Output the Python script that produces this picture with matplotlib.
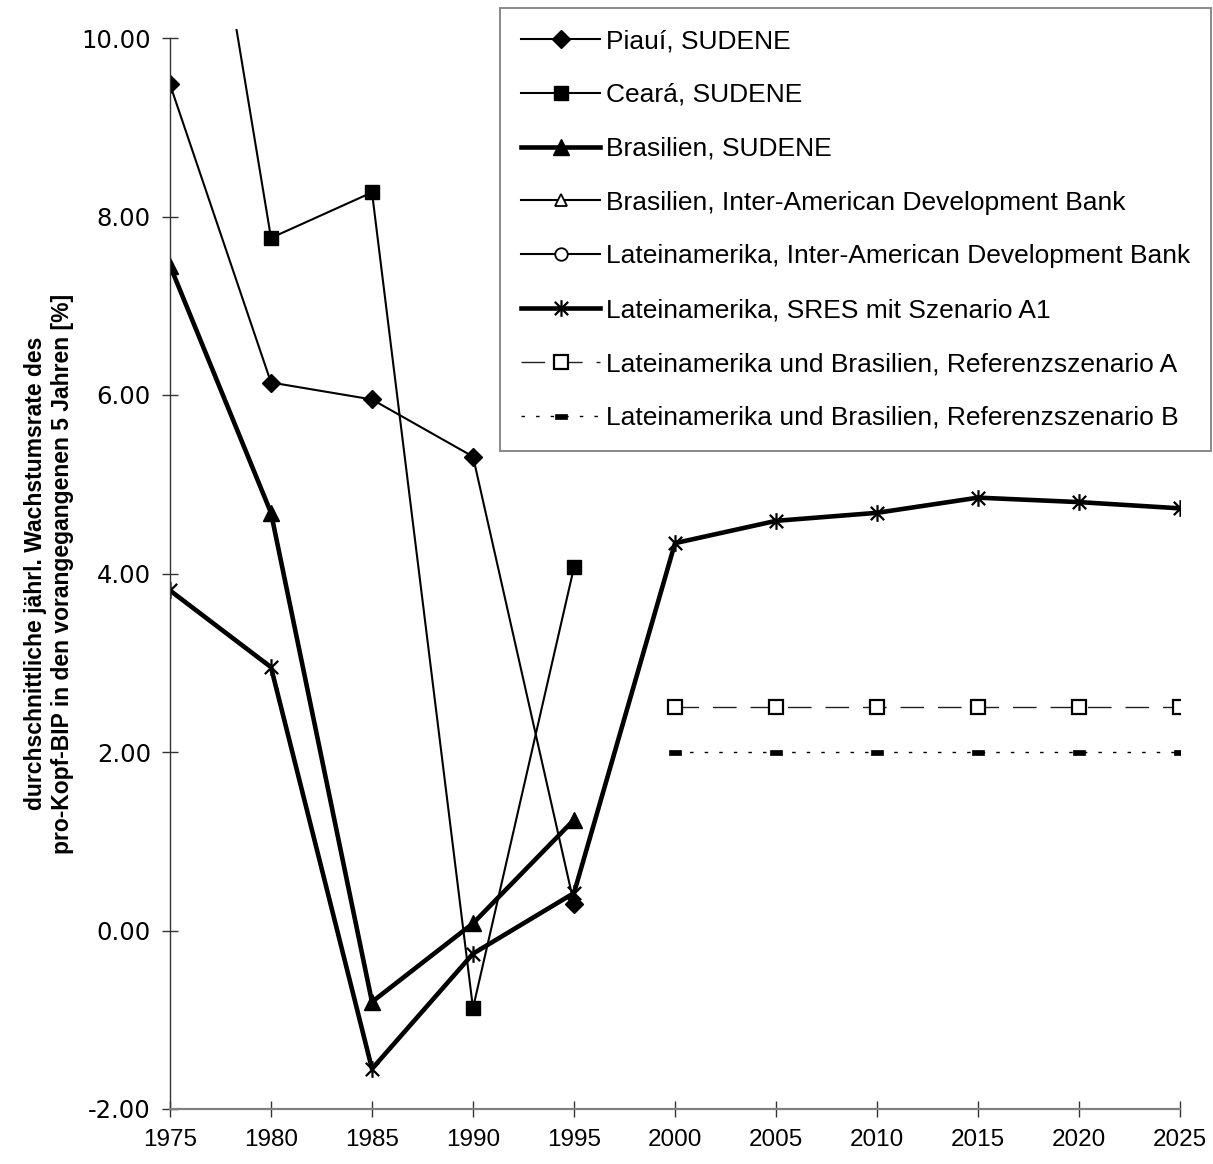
import numpy as np
import matplotlib
matplotlib.use("Agg")
import matplotlib.pyplot as plt
from matplotlib.path import Path
from matplotlib.patches import Rectangle

plt.rcParams['font.family'] = ['Liberation Sans', 'DejaVu Sans']

# years on the x axis
years_hist = [1975, 1980, 1985, 1990, 1995]
years_all = [1975, 1980, 1985, 1990, 1995, 2000, 2005, 2010, 2015, 2020, 2025]
years_ref = [2000, 2005, 2010, 2015, 2020, 2025]

# average annual growth of GDP per capita over the preceding 5 years [%]
piaui_sudene = [9.48, 6.14, 5.95, 5.31, 0.30]
ceara_sudene = [14.6, 7.76, 8.27, -0.87, 4.07]
brasil_sudene = [7.45, 4.68, -0.80, 0.08, 1.24]
brasil_idb = []          # only shown in the legend
latam_idb = []           # only shown in the legend
latam_sres_a1 = [3.81, 2.95, -1.55, -0.26, 0.42, 4.34, 4.59, 4.68, 4.85, 4.80, 4.73]
ref_a = [2.5, 2.5, 2.5, 2.5, 2.5, 2.5]
ref_b = [2.0, 2.0, 2.0, 2.0, 2.0, 2.0]

labels = ["Piauí, SUDENE",
          "Ceará, SUDENE",
          "Brasilien, SUDENE",
          "Brasilien, Inter-American Development Bank",
          "Lateinamerika, Inter-American Development Bank",
          "Lateinamerika, SRES mit Szenario A1",
          "Lateinamerika und Brasilien, Referenzszenario A",
          "Lateinamerika und Brasilien, Referenzszenario B"]

y_ticks = [-2, 0, 2, 4, 6, 8, 10]
x_ticks = list(range(1975, 2030, 5))

# excel style star: an x with a vertical bar through it
star = Path([(-1, -1), (1, 1), (-1, 1), (1, -1), (0, -1.25), (0, 1.25)],
            [Path.MOVETO, Path.LINETO, Path.MOVETO, Path.LINETO, Path.MOVETO, Path.LINETO])
# short flat bar used for scenario B
bar = Path([(-1, -0.4), (1, -0.4), (1, 0.4), (-1, 0.4), (-1, -0.4)],
           [Path.MOVETO, Path.LINETO, Path.LINETO, Path.LINETO, Path.CLOSEPOLY])

W, H = 1213, 1164
fig = plt.figure(figsize=(W / 100, H / 100), dpi=100)
ax = fig.add_axes([170 / W, 1 - 1109 / H, (1180 - 170) / W, (1109 - 38) / H])

thin = 1.5
thick = 3.3

h1, = ax.plot(years_hist, piaui_sudene, color="k", lw=thin, marker="D", ms=9.5)
h2, = ax.plot(years_hist, ceara_sudene, color="k", lw=thin, marker="s", ms=10)
h3, = ax.plot(years_hist, brasil_sudene, color="k", lw=thick, marker="^", ms=12)
h4, = ax.plot(brasil_idb, brasil_idb, color="k", lw=thin, marker="^", ms=9,
              mfc="white", mew=1.3)
h5, = ax.plot(latam_idb, latam_idb, color="k", lw=thin, marker="o", ms=9,
              mfc="white", mew=1.3)
h6, = ax.plot(years_all, latam_sres_a1, color="k", lw=thick, marker=star, ms=12,
              mfc="none", mew=1.6)
h7, = ax.plot(years_ref, ref_a, color="#222222", lw=1.0, dashes=(17, 10),
              marker="s", ms=10, mfc="white", mec="k", mew=1.6)
h8, = ax.plot(years_ref, ref_b, color="k", lw=1.0, dashes=(2.5, 8),
              marker=bar, ms=9, mfc="k", mec="k", mew=0.5)

# the plot area reaches a little above the 10.00 tick
clip = Rectangle((0, 0), 1, 1.008, transform=ax.transAxes, visible=False)
ax.add_patch(clip)
h2.set_clip_path(clip)

ax.set_xlim(1975, 2025)
ax.set_ylim(-2, 10)
ax.set_xticks(x_ticks)
ax.set_yticks(y_ticks)
ax.set_yticklabels(["%.2f" % v for v in y_ticks], family="DejaVu Sans", fontsize=17.5)
ax.set_xticklabels([str(v) for v in x_ticks], fontsize=17.5)

for side in ["top", "right"]:
    ax.spines[side].set_visible(False)
ax.spines["left"].set_color("#333333")
ax.spines["left"].set_linewidth(1.0)
ax.spines["bottom"].set_color("#808080")
ax.spines["bottom"].set_linewidth(1.6)
ax.tick_params(axis="both", direction="inout", length=11.5, width=1.0, color="#333333")
ax.tick_params(axis="x", pad=9)
ax.tick_params(axis="y", pad=8)

ax.set_ylabel("durchschnittliche jährl. Wachstumsrate des\n"
              "pro-Kopf-BIP in den vorangegangenen 5 Jahren [%]",
              fontsize=16.5, fontweight="bold", labelpad=5, linespacing=1.25)

leg = fig.legend([h1, h2, h3, h4, h5, h6, h7, h8], labels,
                 loc="upper right", bbox_to_anchor=(1211 / W, 1 - 8 / H),
                 bbox_transform=fig.transFigure, borderaxespad=0,
                 fontsize=19, frameon=True, fancybox=False, framealpha=1,
                 edgecolor="#808080", handlelength=3.0, handletextpad=0.2,
                 labelspacing=1.13, borderpad=0.8)
leg.get_frame().set_linewidth(1.3)

fig.savefig("out.png", dpi=100)
